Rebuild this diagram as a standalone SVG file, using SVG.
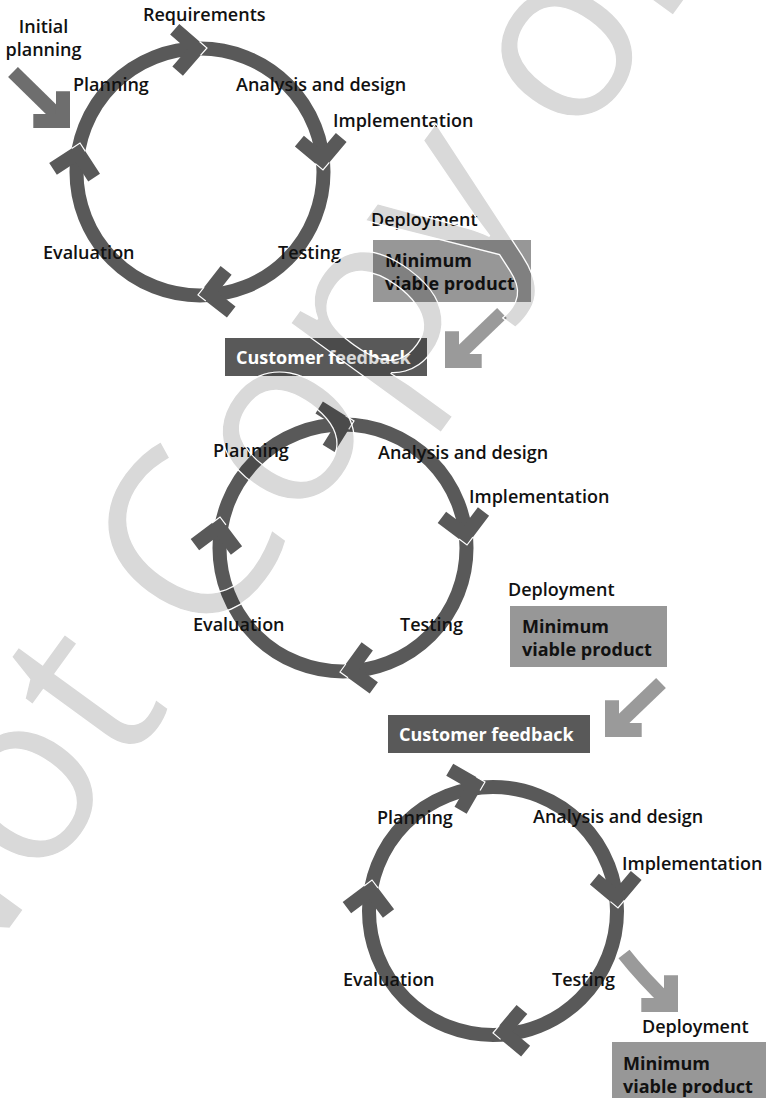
<svg xmlns="http://www.w3.org/2000/svg" xmlns:xlink="http://www.w3.org/1999/xlink" width="766" height="1098" viewBox="0 0 766 1098">
<style>
.ring{fill:none;stroke:#595959;stroke-width:14}
.lbl{font-family:"Open Sans","Noto Sans","Liberation Sans",sans-serif;font-size:18px;font-weight:600;fill:#111}
.bx{font-family:"Open Sans","Noto Sans","Liberation Sans",sans-serif;font-size:18px;font-weight:700;fill:#111}
.cf{font-family:"Open Sans","Noto Sans","Liberation Sans",sans-serif;font-size:18px;font-weight:700;fill:#fff}
.mvp{fill:#979797}
.cfb{fill:#595959}
.mid{stroke:#6e6e6e}
.light{stroke:#9a9a9a}
.shaft{fill:none;stroke-width:14}
.wm{font-family:"Open Sans","Noto Sans",sans-serif;font-size:240px;font-weight:400;fill:#000;fill-opacity:0.15;stroke:#fff;stroke-width:1.2}
</style>
<defs>
<path id="chv" d="M-30.9,-21 L-9.9,0 L-30.9,21" fill="none" stroke-width="14" stroke-linejoin="miter"/>
<path id="tipw" d="M-7,-7 L0,0 L-7,7" fill="none" stroke="#fff" stroke-width="1.2"/>
<g id="rchev"><use xlink:href="#chv" href="#chv" stroke="#595959"/><use xlink:href="#tipw" href="#tipw"/></g>
</defs>
<rect width="766" height="1098" fill="#fff"/>

<g id="cycle1">
<circle class="ring" cx="200" cy="172" r="123.5"/>
<use href="#rchev" xlink:href="#rchev" transform="translate(207,48) rotate(-4)"/>
<use href="#rchev" xlink:href="#rchev" transform="translate(323,170) rotate(85)"/>
<use href="#rchev" xlink:href="#rchev" transform="translate(198,295) rotate(173)"/>
<use href="#rchev" xlink:href="#rchev" transform="translate(80,143) rotate(-78)"/>
</g>
<g id="cycle2">
<circle class="ring" cx="343" cy="548" r="123.5"/>
<use href="#rchev" xlink:href="#rchev" transform="translate(354,421) rotate(-13)"/>
<use href="#rchev" xlink:href="#rchev" transform="translate(467,545) rotate(82)"/>
<use href="#rchev" xlink:href="#rchev" transform="translate(340,672) rotate(171)"/>
<use href="#rchev" xlink:href="#rchev" transform="translate(220,517) rotate(-82)"/>
</g>
<g id="cycle3">
<circle class="ring" cx="493" cy="911" r="124"/>
<use href="#rchev" xlink:href="#rchev" transform="translate(485,782) rotate(-15)"/>
<use href="#rchev" xlink:href="#rchev" transform="translate(618,908) rotate(85)"/>
<use href="#rchev" xlink:href="#rchev" transform="translate(493,1033) rotate(175)"/>
<use href="#rchev" xlink:href="#rchev" transform="translate(372,880) rotate(-82)"/>
</g>

<g id="connectors">
<g class="mid">
<path class="shaft" d="M13,72 L63,121"/>
<use href="#chv" xlink:href="#chv" transform="translate(70,128) rotate(45)"/>
</g>
<g class="light">
<path class="shaft" d="M502,313 L452,361"/>
<use href="#chv" xlink:href="#chv" transform="translate(445,368) rotate(135)"/>
<path class="shaft" d="M661,683 L612,730"/>
<use href="#chv" xlink:href="#chv" transform="translate(605,737) rotate(135)"/>
<path class="shaft" d="M624,954 Q642,977 671,1005"/>
<use href="#chv" xlink:href="#chv" transform="translate(678,1012) rotate(45)"/>
</g>
</g>

<g id="mvp1"><rect class="mvp" x="373" y="240" width="158" height="62"/>
<text class="bx" x="385" y="267">Minimum</text><text class="bx" x="385" y="290">viable product</text></g>
<g id="mvp2"><rect class="mvp" x="510" y="606" width="157" height="61"/>
<text class="bx" x="522" y="633">Minimum</text><text class="bx" x="522" y="656">viable product</text></g>
<g id="mvp3"><rect class="mvp" x="612" y="1042" width="154" height="56"/>
<text class="bx" x="623" y="1070">Minimum</text><text class="bx" x="623" y="1093">viable product</text></g>
<g id="feedback1"><rect class="cfb" x="225" y="338" width="202" height="38"/>
<text class="cf" x="236" y="364">Customer feedback</text></g>
<g id="feedback2"><rect class="cfb" x="388" y="715" width="202" height="38"/>
<text class="cf" x="399" y="741">Customer feedback</text></g>

<g id="labels1">
<text class="lbl" x="43.5" y="33" text-anchor="middle">Initial</text>
<text class="lbl" x="43.5" y="56" text-anchor="middle">planning</text>
<text class="lbl" x="143" y="21">Requirements</text>
<text class="lbl" x="73" y="91">Planning</text>
<text class="lbl" x="236" y="91">Analysis and design</text>
<text class="lbl" x="333" y="127">Implementation</text>
<text class="lbl" x="371" y="226">Deployment</text>
<text class="lbl" x="278" y="259">Testing</text>
<text class="lbl" x="43" y="259">Evaluation</text>
</g>
<g id="labels2">
<text class="lbl" x="213" y="457">Planning</text>
<text class="lbl" x="378" y="459">Analysis and design</text>
<text class="lbl" x="469" y="503">Implementation</text>
<text class="lbl" x="508" y="596">Deployment</text>
<text class="lbl" x="400" y="631">Testing</text>
<text class="lbl" x="193" y="631">Evaluation</text>
</g>
<g id="labels3">
<text class="lbl" x="377" y="824">Planning</text>
<text class="lbl" x="533" y="823">Analysis and design</text>
<text class="lbl" x="622" y="870">Implementation</text>
<text class="lbl" x="552" y="986">Testing</text>
<text class="lbl" x="343" y="986">Evaluation</text>
<text class="lbl" x="642" y="1033">Deployment</text>
</g>

<g id="watermark">
<text class="wm" transform="translate(-293,1345) rotate(-54)">Do Not Copy or Post</text>
</g>
</svg>
